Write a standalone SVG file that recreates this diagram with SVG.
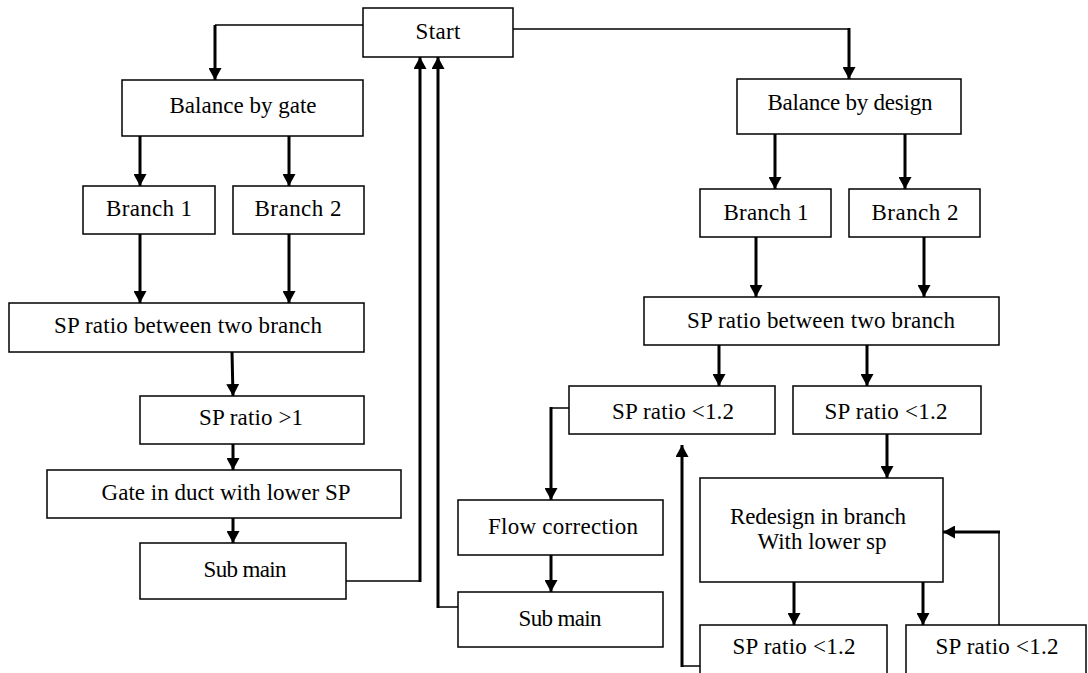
<svg xmlns="http://www.w3.org/2000/svg" width="1088" height="673" viewBox="0 0 1088 673">
<style>
.box{fill:#fff;stroke:#000;stroke-width:1.5}
text{font-family:'Liberation Serif','Times New Roman','DejaVu Serif',serif;font-size:23px;fill:#000;text-anchor:middle}
.thin{fill:none;stroke:#000;stroke-width:1.5}
.arr{fill:none;stroke:#000;stroke-width:3;marker-end:url(#ah)}
</style>
<defs>
<marker id="ah" markerUnits="userSpaceOnUse" markerWidth="13" markerHeight="13" refX="12" refY="6.5" orient="auto">
<path d="M0,0 L12,6.5 L0,13 z" fill="#000"/>
</marker>
</defs>
<rect width="1088" height="673" fill="#fff"/>
<g id="connectors">
<path class="thin" d="M363,25 H215"/>
<path class="arr" d="M215,25 V80"/>
<path class="thin" d="M513,29 H849"/>
<path class="arr" d="M849,28 V79"/>
<path class="arr" d="M140,136 V186"/>
<path class="arr" d="M289,136 V186"/>
<path class="arr" d="M140,234 V303"/>
<path class="arr" d="M289,234 V303"/>
<path class="arr" d="M232,352 L233,396"/>
<path class="arr" d="M233,444 V470"/>
<path class="arr" d="M233,518 V543"/>
<path class="thin" d="M346,581 H420"/>
<path class="arr" d="M420,582 V57"/>
<path class="thin" d="M458,607 H438"/>
<path class="arr" d="M438,608 V57"/>
<path class="arr" d="M775,134 V189"/>
<path class="arr" d="M905,134 V189"/>
<path class="arr" d="M756,237 V297"/>
<path class="arr" d="M924,237 V297"/>
<path class="arr" d="M719,345 V386"/>
<path class="arr" d="M867,345 V386"/>
<path class="thin" d="M569,408 H551"/>
<path class="arr" d="M551,407 V500"/>
<path class="arr" d="M551,555 V592"/>
<path class="arr" d="M887,434 V478"/>
<path class="arr" d="M794,582 V625"/>
<path class="arr" d="M923,582 V625"/>
<path class="thin" d="M700,666 H682"/>
<path class="arr" d="M682,667 V445"/>
<path class="thin" d="M999,625 V532"/>
<path class="arr" d="M1000,532 H943"/>
</g>
<g id="start"><rect class="box" x="363" y="8" width="150" height="49"/><text x="438" y="39" textLength="45" lengthAdjust="spacing">Start</text></g>
<g id="balance-gate"><rect class="box" x="122" y="80" width="241" height="56"/><text x="243" y="113" textLength="147" lengthAdjust="spacing">Balance by gate</text></g>
<g id="branch1-left"><rect class="box" x="83" y="186" width="132" height="48"/><text x="149" y="216" textLength="86" lengthAdjust="spacing">Branch 1</text></g>
<g id="branch2-left"><rect class="box" x="233" y="186" width="131" height="48"/><text x="298" y="216" textLength="87" lengthAdjust="spacing">Branch 2</text></g>
<g id="sp-between-left"><rect class="box" x="9" y="303" width="355" height="49"/><text x="188" y="333" textLength="268" lengthAdjust="spacing">SP ratio between two branch</text></g>
<g id="sp-gt1"><rect class="box" x="140" y="396" width="224" height="48"/><text x="251" y="425" textLength="104" lengthAdjust="spacing">SP ratio &gt;1</text></g>
<g id="gate-duct"><rect class="box" x="47" y="470" width="354" height="48"/><text x="226" y="500" textLength="249" lengthAdjust="spacing">Gate in duct with lower SP</text></g>
<g id="submain-left"><rect class="box" x="140" y="543" width="206" height="56"/><text x="245" y="577" textLength="83" lengthAdjust="spacing">Sub main</text></g>
<g id="balance-design"><rect class="box" x="737" y="79" width="224" height="55"/><text x="850" y="110" textLength="165" lengthAdjust="spacing">Balance by design</text></g>
<g id="branch1-right"><rect class="box" x="700" y="189" width="131" height="48"/><text x="766" y="220" textLength="85" lengthAdjust="spacing">Branch 1</text></g>
<g id="branch2-right"><rect class="box" x="849" y="189" width="131" height="48"/><text x="915" y="220" textLength="87" lengthAdjust="spacing">Branch 2</text></g>
<g id="sp-between-right"><rect class="box" x="644" y="297" width="355" height="48"/><text x="821" y="328" textLength="268" lengthAdjust="spacing">SP ratio between two branch</text></g>
<g id="sp-lt12-a"><rect class="box" x="569" y="386" width="206" height="48"/><text x="673" y="419" textLength="122" lengthAdjust="spacing">SP ratio &lt;1.2</text></g>
<g id="sp-lt12-b"><rect class="box" x="793" y="386" width="188" height="48"/><text x="886" y="419" textLength="123" lengthAdjust="spacing">SP ratio &lt;1.2</text></g>
<g id="flow-correction"><rect class="box" x="458" y="500" width="205" height="55"/><text x="563" y="534" textLength="150" lengthAdjust="spacing">Flow correction</text></g>
<g id="submain-right"><rect class="box" x="458" y="592" width="205" height="55"/><text x="560" y="626" textLength="83" lengthAdjust="spacing">Sub main</text></g>
<g id="redesign"><rect class="box" x="700" y="478" width="243" height="104"/><text x="818" y="524" textLength="176" lengthAdjust="spacing">Redesign in branch</text><text x="822" y="549" textLength="129" lengthAdjust="spacing">With lower sp</text></g>
<g id="sp-lt12-c"><rect class="box" x="700" y="625" width="187" height="60"/><text x="794" y="654" textLength="123" lengthAdjust="spacing">SP ratio &lt;1.2</text></g>
<g id="sp-lt12-d"><rect class="box" x="906" y="625" width="180" height="60"/><text x="997" y="654" textLength="123" lengthAdjust="spacing">SP ratio &lt;1.2</text></g>
</svg>
